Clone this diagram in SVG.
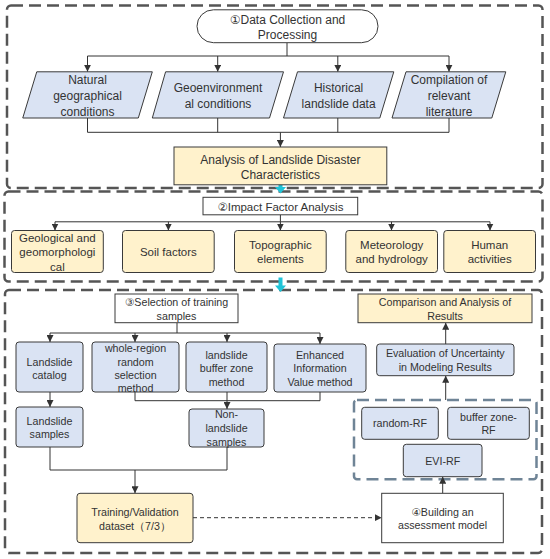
<svg xmlns="http://www.w3.org/2000/svg" width="550" height="559" viewBox="0 0 550 559">
<style>
.sec{fill:none;stroke:#555;stroke-width:2.5;stroke-dasharray:12 6}
.inner{fill:none;stroke:#6f8496;stroke-width:2.5;stroke-dasharray:12 6}
.blue{fill:#dae3f3;stroke:#3a3a3a;stroke-width:1}
.yel{fill:#fff2cc;stroke:#3a3a3a;stroke-width:1}
.wht{fill:#fff;stroke:#3a3a3a;stroke-width:1}
text{font-family:"Liberation Sans",Arial,"DejaVu Sans",sans-serif;fill:#333;text-anchor:middle}
.t1{font-size:12px}
.t2{font-size:11.5px}
.t3{font-size:10.7px}
.ln{fill:none;stroke:#333;stroke-width:1}
.ar{fill:none;stroke:#333;stroke-width:1;marker-end:url(#ah)}
.da{fill:none;stroke:#333;stroke-width:1;stroke-dasharray:4 3;marker-end:url(#ah)}
.cy{fill:#1fc4d8}
</style>
<defs>
<marker id="ah" viewBox="0 0 10 10" refX="10" refY="5" markerWidth="7" markerHeight="7" markerUnits="userSpaceOnUse" orient="auto">
<path d="M0,0 L10,5 L0,10 z" fill="#333"/>
</marker>
</defs>

<!-- section frames -->
<g id="section1"><rect class="sec" x="7" y="5.5" width="535.5" height="182.5" rx="4"/></g>
<g id="section2"><rect class="sec" x="4.5" y="191.5" width="538" height="90" rx="4"/></g>
<g id="section3"><rect class="sec" x="5" y="290" width="537" height="263" rx="4"/></g>
<g id="model-group"><rect class="inner" x="354" y="400" width="182.5" height="79.3" rx="3"/></g>

<!-- cyan arrows -->
<g id="cyan-arrows">
<path class="cy" d="M278.5,182 H282.5 V187 H286 L280.5,193.5 L275,187 H278.5 Z"/>
<path class="cy" d="M278.5,277.5 H282.5 V285.5 H286 L280.5,292 L275,285.5 H278.5 Z"/>
</g>

<!-- connectors -->
<g id="connectors">
<path class="ln" d="M287,42.7 V56 M87.5,56 H449"/>
<path class="ar" d="M87.5,56 V71.8"/>
<path class="ar" d="M217.7,56 V71.8"/>
<path class="ar" d="M337.8,56 V71.8"/>
<path class="ar" d="M449,56 V71.8"/>
<path class="ln" d="M87.5,118 V132.3 H449 V118 M217.7,118 V132.3 M337.8,118 V132.3"/>
<path class="ar" d="M280.4,132.3 V147"/>

<path class="ln" d="M280.4,214.8 V221.8 M55,221.8 H490"/>
<path class="ar" d="M55,221.8 V230.5"/>
<path class="ar" d="M168.4,221.8 V230.5"/>
<path class="ar" d="M280.4,221.8 V230.5"/>
<path class="ar" d="M391.5,221.8 V230.5"/>
<path class="ar" d="M490,221.8 V230.5"/>

<path class="ln" d="M177,322.7 V333 M50,333 H320"/>
<path class="ar" d="M50,333 V342"/>
<path class="ar" d="M135,333 V342"/>
<path class="ar" d="M227,333 V342"/>
<path class="ar" d="M320,333 V344"/>
<path class="ar" d="M50,392 V407"/>
<path class="ln" d="M135,392 V400.7 H320 V392"/>
<path class="ar" d="M227,392 V409"/>
<path class="ln" d="M50,447 V470 H227 V447"/>
<path class="ar" d="M135,470 V493.3"/>
<path class="da" d="M193,517.7 H381.7"/>
<path class="ar" d="M442.7,493.3 V476.7"/>
<path class="ar" d="M445.7,400 V375.7"/>
<path class="ar" d="M445.7,344 V322.7"/>
</g>

<!-- section 1 nodes -->
<g id="data-collection">
<rect class="wht" x="197" y="9.8" width="181" height="32.9" rx="16.4"/>
<text class="t1" x="287.5" y="23.5">①Data Collection and</text>
<text class="t1" x="287.5" y="39.2">Processing</text>
</g>
<g id="natural">
<polygon class="blue" points="36.75,71.8 152.3,71.8 138.3,118 22.75,118"/>
<text class="t1" x="87.5" y="84.2">Natural</text>
<text class="t1" x="87.5" y="99.9">geographical</text>
<text class="t1" x="87.5" y="115.6">conditions</text>
</g>
<g id="geoenv">
<polygon class="blue" points="165.6,71.8 283.5,71.8 269.5,118 152.3,118"/>
<text class="t1" x="218" y="91.7">Geoenvironment</text>
<text class="t1" x="218" y="107.8">al conditions</text>
</g>
<g id="historical">
<polygon class="blue" points="297.5,71.8 393.8,71.8 379.8,118 283.5,118"/>
<text class="t1" x="338.6" y="91.7">Historical</text>
<text class="t1" x="338.6" y="107.8">landslide data</text>
</g>
<g id="literature">
<polygon class="blue" points="406,71.8 505.8,71.8 491.8,118 392,118"/>
<text class="t1" x="449" y="84.2">Compilation of</text>
<text class="t1" x="449" y="99.9">relevant</text>
<text class="t1" x="449" y="115.6">literature</text>
</g>
<g id="analysis">
<rect class="yel" x="174" y="147" width="212.8" height="37.8"/>
<text class="t1" x="280.4" y="163.5">Analysis of Landslide Disaster</text>
<text class="t1" x="280.4" y="178.5">Characteristics</text>
</g>

<!-- section 2 nodes -->
<g id="impact">
<rect class="wht" x="203" y="197.3" width="154.7" height="17.5"/>
<text class="t2" x="280.4" y="210.7">②Impact Factor Analysis</text>
</g>
<g id="geological">
<rect class="yel" x="11.5" y="230.5" width="91.8" height="42" rx="3"/>
<text class="t2" x="57.4" y="241.5">Geological and</text>
<text class="t2" x="57.4" y="256.2">geomorphologi</text>
<text class="t2" x="57.4" y="271">cal</text>
</g>
<g id="soil">
<rect class="yel" x="122.5" y="230.5" width="91.7" height="42" rx="3"/>
<text class="t2" x="168.4" y="256.2">Soil factors</text>
</g>
<g id="topographic">
<rect class="yel" x="234.5" y="230.5" width="91.7" height="42" rx="3"/>
<text class="t2" x="280.4" y="248.5">Topographic</text>
<text class="t2" x="280.4" y="263.2">elements</text>
</g>
<g id="meteorology">
<rect class="yel" x="345.8" y="230.5" width="91.7" height="42" rx="3"/>
<text class="t2" x="391.7" y="248.5">Meteorology</text>
<text class="t2" x="391.7" y="263.2">and hydrology</text>
</g>
<g id="human">
<rect class="yel" x="443.8" y="230.5" width="91.7" height="42" rx="3"/>
<text class="t2" x="489.7" y="248.5">Human</text>
<text class="t2" x="489.7" y="263.2">activities</text>
</g>

<!-- section 3 nodes -->
<g id="selection">
<rect class="wht" x="115" y="294" width="123" height="28.7"/>
<text class="t3" x="176.5" y="305.8">③Selection of training</text>
<text class="t3" x="176.5" y="319.5">samples</text>
</g>
<g id="catalog">
<rect class="blue" x="16" y="342" width="67" height="50" rx="3"/>
<text class="t3" x="49.5" y="365.5">Landslide</text>
<text class="t3" x="49.5" y="378.8">catalog</text>
</g>
<g id="whole-region">
<rect class="blue" x="92" y="342" width="87" height="50" rx="3"/>
<text class="t3" x="135.5" y="351.8">whole-region</text>
<text class="t3" x="135.5" y="365.5">random</text>
<text class="t3" x="135.5" y="378.8">selection</text>
<text class="t3" x="135.5" y="392.1">method</text>
</g>
<g id="buffer-zone">
<rect class="blue" x="186" y="342" width="81" height="50" rx="3"/>
<text class="t3" x="226.5" y="358.8">landslide</text>
<text class="t3" x="226.5" y="372.1">buffer zone</text>
<text class="t3" x="226.5" y="385.5">method</text>
</g>
<g id="eiv">
<rect class="blue" x="274" y="344" width="92" height="48" rx="3"/>
<text class="t3" x="320" y="358.8">Enhanced</text>
<text class="t3" x="320" y="372.1">Information</text>
<text class="t3" x="320" y="385.5">Value method</text>
</g>
<g id="landslide-samples">
<rect class="blue" x="16" y="407" width="67" height="40" rx="3"/>
<text class="t3" x="49.5" y="424.8">Landslide</text>
<text class="t3" x="49.5" y="438.1">samples</text>
</g>
<g id="non-landslide">
<rect class="blue" x="189" y="409" width="75" height="38" rx="3"/>
<text class="t3" x="226.5" y="418.1">Non-</text>
<text class="t3" x="226.5" y="432.1">landslide</text>
<text class="t3" x="226.5" y="445.5">samples</text>
</g>
<g id="training">
<rect class="yel" x="77" y="493.3" width="116" height="49.4" rx="3"/>
<text class="t3" x="135" y="516.1">Training/Validation</text>
<text class="t3" x="135" y="529.5">dataset（7/3）</text>
</g>
<g id="comparison">
<rect class="yel" x="358" y="294" width="174" height="28.7"/>
<text class="t3" x="445" y="306.1">Comparison and Analysis of</text>
<text class="t3" x="445" y="319.5">Results</text>
</g>
<g id="evaluation">
<rect class="blue" x="376.7" y="344" width="137.3" height="31.7" rx="3"/>
<text class="t3" x="445.3" y="357.1">Evaluation of Uncertainty</text>
<text class="t3" x="445.3" y="370.5">in Modeling Results</text>
</g>
<g id="random-rf">
<rect class="blue" x="361.7" y="407.3" width="76.6" height="32" rx="3"/>
<text class="t3" x="400" y="427.1">random-RF</text>
</g>
<g id="buffer-rf">
<rect class="blue" x="447.7" y="407.3" width="81.6" height="32" rx="3"/>
<text class="t3" x="488.5" y="420.5">buffer zone-</text>
<text class="t3" x="488.5" y="433.8">RF</text>
</g>
<g id="evi-rf">
<rect class="blue" x="403.3" y="444.3" width="78.7" height="32.4" rx="3"/>
<text class="t3" x="442.7" y="464.5">EVI-RF</text>
</g>
<g id="building">
<rect class="wht" x="381.7" y="493.3" width="121.6" height="49.4"/>
<text class="t3" x="442.5" y="516.1">④Building an</text>
<text class="t3" x="442.5" y="528.8">assessment model</text>
</g>
</svg>
